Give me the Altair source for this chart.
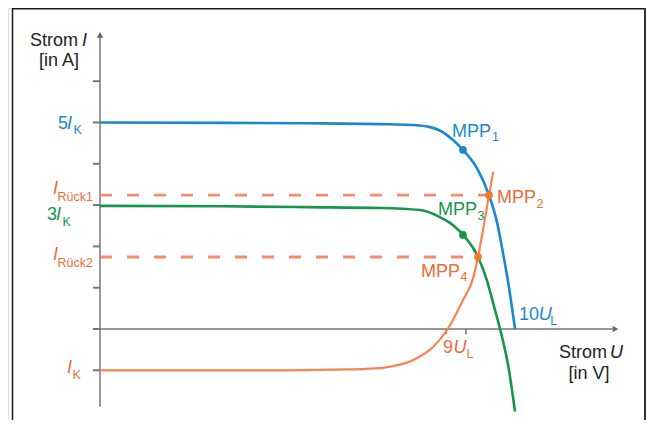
import altair as alt
import pandas as pd

# ---------------- data (U in units of U_L, I in units of I_K) ----------------
blue_u = [0, 3, 5, 6.75, 7.5, 7.9, 8.2, 8.5, 8.75, 9.08, 9.373, 9.57, 9.71, 9.84, 10.0]
blue_i = [5.0, 4.99, 4.98, 4.96, 4.94, 4.90, 4.80, 4.58, 4.33, 3.90, 3.24, 2.57, 1.84, 1.10, 0.0]

green_u = [0, 3, 5, 6.75, 7.71, 8.19, 8.5, 8.75, 8.99, 9.108, 9.32, 9.48, 9.64, 9.84, 10.0]
green_i = [2.98, 2.97, 2.95, 2.93, 2.88, 2.71, 2.52, 2.28, 1.96, 1.743, 1.19, 0.60, 0.0, -0.91, -2.0]

orange_u = [0, 4.5, 6.0, 6.75, 7.0, 7.55, 8.03, 8.38, 8.747, 8.996, 9.108, 9.23, 9.373, 9.477]
orange_i = [-1.0, -1.0, -0.98, -0.95, -0.91, -0.75, -0.43, 0.0, 0.70, 1.25, 1.743, 2.40, 3.24, 3.81]

mpp_u = [8.747, 9.373, 8.747, 9.108]
mpp_i = [4.334, 3.24, 2.276, 1.743]
mpp_col = ["#1a88cc", "#f47a30", "#16964a", "#f47a30"]

rueck_i = [3.24, 1.743]
rueck_end = [9.373, 9.108]

ytick_i = [6, 5, 4, 3, 2, 1, 0, -1]
xtick_u = [8.337, 8.819]

# labels: text, u, i, colour, font size, style, align
BL, GR, OR, BK = "#1a88cc", "#16964a", "#ee6b3b", "#222222"
lab_text = ["Strom", "I", "[in A]",
            "5", "I", "K",
            "I", "Rück1",
            "3", "I", "K",
            "I", "Rück2",
            "I", "K",
            "MPP", "1", "MPP", "2", "MPP", "3", "MPP", "4",
            "10", "U", "L", "9", "U", "L",
            "Strom", "U", "[in V]"]
lab_u = [-0.530, -0.434, -0.988,
         -1.012, -0.795, -0.639,
         -1.133, -1.024,
         -1.277, -1.060, -0.904,
         -1.133, -1.024,
         -0.795, -0.663,
         8.482, 9.446, 9.566, 10.518, 8.145, 9.096, 7.735, 8.687,
         10.096, 10.57, 10.85, 8.265, 8.52, 8.83,
         12.217, 12.289, 11.783]
lab_i = [6.852, 6.852, 6.368,
         4.843, 4.843, 4.722,
         3.27, 3.11,
         2.64, 2.64, 2.495,
         1.671, 1.501,
         -1.065, -1.211,
         4.649, 4.552, 3.051, 2.930, 2.760, 2.639, 1.259, 1.162,
         0.218, 0.218, 0.097, -0.581, -0.581, -0.702,
         -0.702, -0.702, -1.211]
lab_col = [BK, BK, BK,
           BL, BL, BL,
           OR, OR,
           GR, GR, GR,
           OR, OR,
           OR, OR,
           BL, BL, OR, OR, GR, GR, OR, OR,
           BL, BL, BL, OR, OR, OR,
           BK, BK, BK]
lab_size = [18, 18, 18,
            18, 18, 12.5,
            18, 12.5,
            18, 18, 12.5,
            18, 12.5,
            18, 12.5,
            18, 12.5, 18, 12.5, 18, 12.5, 18, 12.5,
            18, 18, 12.5, 18, 18, 12.5,
            18, 18, 18]
lab_style = ["n", "it", "n",
             "n", "it", "n",
             "it", "n",
             "n", "it", "n",
             "it", "n",
             "it", "n",
             "n", "n", "n", "n", "n", "n", "n", "n",
             "n", "it", "n", "n", "it", "n",
             "n", "it", "n"]
lab_align = ["right", "left", "center",
             "left", "left", "left",
             "left", "left",
             "left", "left", "left",
             "left", "left",
             "left", "left",
             "left", "left", "left", "left", "left", "left", "left", "left",
             "left", "left", "left", "left", "left", "left",
             "right", "left", "center"]

# ---------------- layout ----------------
W, H = 638, 412
PXU, PXI = 41.5, 41.3
U0 = -2.217
I_TOP = 7.772
xs = alt.Scale(domain=[U0, U0 + W / PXU], nice=False, zero=False)
ys = alt.Scale(domain=[I_TOP - H / PXI, I_TOP], nice=False, zero=False)
FONT = "Liberation Sans"


def X(f="u"):
    return alt.X(f"{f}:Q", scale=xs, axis=None)


def Y(f="i"):
    return alt.Y(f"{f}:Q", scale=ys, axis=None)


def curve(us, is_, color, w):
    df = pd.DataFrame({"u": us, "i": is_})
    return alt.Chart(df).mark_line(interpolate="monotone", color=color, strokeWidth=w).encode(x=X(), y=Y())


layers = []

# axes
yaxis = pd.DataFrame({"u": [0], "i": [-1.88], "i2": [7.08]})
layers.append(alt.Chart(yaxis).mark_rule(color="#9a9a9a", strokeWidth=2).encode(x=X(), y=Y(), y2="i2:Q"))
xaxis = pd.DataFrame({"u": [-0.17], "u2": [12.35], "i": [0]})
layers.append(alt.Chart(xaxis).mark_rule(color="#747474", strokeWidth=1.6).encode(x=X(), x2="u2:Q", y=Y()))
yt = pd.DataFrame({"u": [-0.17] * len(ytick_i), "u2": [0] * len(ytick_i), "i": ytick_i})
layers.append(alt.Chart(yt).mark_rule(color="#777777", strokeWidth=2).encode(x=X(), x2="u2:Q", y=Y()))
xt = pd.DataFrame({"u": xtick_u, "i": [0] * len(xtick_u), "i2": [-0.13] * len(xtick_u)})
layers.append(alt.Chart(xt).mark_rule(color="#777777", strokeWidth=1.6).encode(x=X(), y=Y(), y2="i2:Q"))
layers.append(alt.Chart(pd.DataFrame({"u": [0], "i": [7.12]})).mark_point(
    shape="triangle-up", filled=True, size=42, color="#666666", opacity=1).encode(x=X(), y=Y()))
layers.append(alt.Chart(pd.DataFrame({"u": [12.42], "i": [0]})).mark_point(
    shape="triangle-right", filled=True, size=42, color="#666666", opacity=1).encode(x=X(), y=Y()))

# dashed reverse-current lines
rd = pd.DataFrame({"u": [0, 0], "u2": rueck_end, "i": rueck_i})
layers.append(alt.Chart(rd).mark_rule(color="#f58a6e", strokeWidth=2.8, strokeDash=[12, 15]).encode(
    x=X(), x2="u2:Q", y=Y()))

# curves
layers.append(curve(orange_u, orange_i, "#f58450", 2.2))
layers.append(curve(green_u, green_i, "#16964a", 2.6))
layers.append(curve(blue_u, blue_i, "#1a88cc", 2.6))

# MPP points
mp = pd.DataFrame({"u": mpp_u, "i": mpp_i, "c": mpp_col})
layers.append(alt.Chart(mp).mark_circle(size=60, opacity=1).encode(
    x=X(), y=Y(), color=alt.Color("c:N", scale=None)))

# labels
labels = pd.DataFrame({"t": lab_text, "u": lab_u, "i": lab_i, "c": lab_col,
                       "s": lab_size, "st": lab_style, "al": lab_align})
for st in ["n", "it"]:
    for al in ["left", "right", "center"]:
        sub = labels[(labels.st == st) & (labels.al == al)]
        if len(sub) == 0:
            continue
        layers.append(alt.Chart(sub).mark_text(
            align=al, baseline="alphabetic", font=FONT,
            fontStyle="italic" if st == "it" else "normal").encode(
            x=X(), y=Y(), text="t:N",
            color=alt.Color("c:N", scale=None),
            size=alt.Size("s:Q", scale=None)))

# frame
one = pd.DataFrame({"a": [0]})
layers.append(alt.Chart(one).mark_rule(color="#1a1a1a", strokeWidth=1.5).encode(
    x=alt.value(4.5), y=alt.value(0), y2=alt.value(H)))
layers.append(alt.Chart(one).mark_rule(color="#1a1a1a", strokeWidth=1.5).encode(
    x=alt.value(4.5), x2=alt.value(W - 1), y=alt.value(0.75)))
layers.append(alt.Chart(one).mark_rule(color="#333333", strokeWidth=2).encode(
    x=alt.value(W - 1), y=alt.value(0), y2=alt.value(H)))

chart = alt.layer(*layers).properties(
    width=W, height=H, padding=0, autosize=alt.AutoSizeParams(type="none")
).configure_view(stroke=None).configure(background="white")

chart.save("out.html", embed_options={"renderer": "svg", "actions": False})
